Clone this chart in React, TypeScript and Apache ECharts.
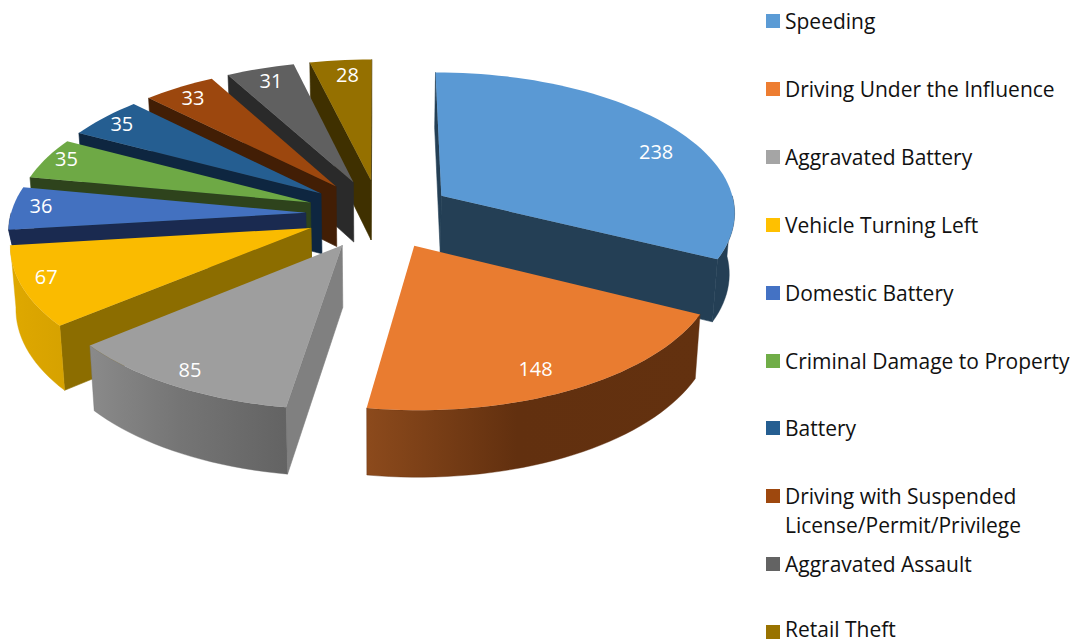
import React, { useEffect, useRef } from "react";
import * as echarts from "echarts";

const CATEGORIES = [
  "Speeding",
  "Driving Under the Influence",
  "Aggravated Battery",
  "Vehicle Turning Left",
  "Domestic Battery",
  "Criminal Damage to Property",
  "Battery",
  "Driving with Suspended\nLicense/Permit/Privilege",
  "Aggravated Assault",
  "Retail Theft",
];
const VALUES = [238, 148, 85, 67, 36, 35, 35, 33, 31, 28];

const LEGEND_COLORS = ["#5B9BD5", "#ED7D31", "#A5A5A5", "#FFC000", "#4472C4", "#70AD47", "#255E91", "#9E480E", "#636363", "#997300"];
const TOP_COLORS = ["#5A99D4", "#E97C30", "#9E9E9E", "#FABB00", "#4371C0", "#6EA945", "#255E91", "#9C470E", "#606060", "#957000"];
const WALL_COLORS = ["#243F55", "#63300F", "#808080", "#8C6D00", "#1A2A50", "#2E431C", "#0E2640", "#421E05", "#2A2A2A", "#3F3000"];
const OUTER_LEFT = ["#243F55", "#8C4A1C", "#8A8A8A", "#DFA900", "#1A2A50", "#2E431C", "#0E2640", "#421E05", "#2A2A2A", "#3F3000"];
const OUTER_MID = ["#243F55", "#62300F", "#757575", "#DBA500", "#1A2A50", "#2E431C", "#0E2640", "#421E05", "#2A2A2A", "#3F3000"];
const OUTER_RIGHT = ["#243F55", "#63310F", "#636363", "#D6A200", "#1A2A50", "#2E431C", "#0E2640", "#421E05", "#2A2A2A", "#3F3000"];

// Layout of the tilted pie
const CX = 379.5, CY = 214, RX = 295, RY = 140, PERSP = 0.105;
const EXPLODE = 0.25, THICK = 61, SHRINK = 0.985;
// How far each slice's rim drops; the blue one is mostly hidden behind its neighbour.
const RIM_DROP = [1, 1, 1, 1, 0.4, 1, 1, 1, 1, 1];
const LABEL_R = [0.853, 0.86, 0.94, 0.92, 0.91, 0.92, 0.9, 0.87, 0.83, 0.79];
const LABEL_SHIFT = [9.3, 0, 0, 0, 0, 0, 0, 0, 0, 0];
const LABEL_DX = [-5, -12, 5, 0, 2, 0, -3, -5, -4, 1];
const LABEL_DY = [-1, 1, -7, -5, -3, -3, -1, -2, -6, -9];
const LEGEND_TEXT_MAX_Y = 629;

const TOTAL = VALUES.reduce((a, b) => a + b, 0);
const rad = (d: number) => (d * Math.PI) / 180;

function project(u: number, v: number, drop: number): number[] {
  const p = 1 / (1 - PERSP * v);
  let x = u * RX * p;
  let y = CY + v * RY * p;
  if (drop > 0) {
    x *= SHRINK;
    y += drop * THICK * (1 + 0.08 * v);
  }
  return [CX + x, y];
}

function renderSlice(params: any, api: any) {
  const i = params.dataIndex;
  const value = api.value(0);
  let before = 0;
  for (let k = 0; k < i; k++) before += VALUES[k];
  const a0 = (before / TOTAL) * 360;
  const a1 = ((before + value) / TOTAL) * 360;
  const mid = (a0 + a1) / 2;
  const ou = EXPLODE * Math.sin(rad(mid));
  const ov = -EXPLODE * Math.cos(rad(mid));
  const rim = (a: number, bottom: boolean) =>
    project(ou + Math.sin(rad(a)), ov - Math.cos(rad(a)), bottom ? RIM_DROP[i] : 0);
  const arc = (from: number, to: number, bottom: boolean) => {
    const n = Math.max(2, Math.ceil((to - from) / 2));
    const out: number[][] = [];
    for (let k = 0; k <= n; k++) out.push(rim(from + ((to - from) * k) / n, bottom));
    return out;
  };
  const apexT = project(ou, ov, 0);
  const apexB = project(ou, ov, 1);
  const z = Math.round((ov + 1) * 1000) * 10;
  const children: any[] = [];

  const wall = (a: number, sign: number) => {
    const r = rim(a, false);
    if ((r[0] - apexT[0]) * sign > 0) {
      children.push({
        type: "polygon",
        z2: z,
        shape: { points: [apexT, r, rim(a, true), apexB] },
        style: { fill: WALL_COLORS[i], stroke: WALL_COLORS[i], lineWidth: 0.6 },
      });
    }
  };
  wall(a0, -1);
  wall(a1, 1);

  const s = Math.max(a0, 90);
  const e = Math.min(a1, 270);
  if (e > s) {
    children.push({
      type: "polygon",
      z2: z + 1,
      shape: { points: [...arc(s, e, false), ...arc(s, e, true).reverse()] },
      style: {
        fill: new echarts.graphic.LinearGradient(0, 0, 1, 0, [
          { offset: 0, color: OUTER_LEFT[i] },
          { offset: 0.45, color: OUTER_MID[i] },
          { offset: 1, color: OUTER_RIGHT[i] },
        ]),
        stroke: OUTER_MID[i],
        lineWidth: 0.4,
      },
    });
  }

  children.push({
    type: "polygon",
    z2: z + 2,
    shape: { points: [apexT, ...arc(a0, a1, false)] },
    style: { fill: TOP_COLORS[i] },
  });

  const la = rad(mid + LABEL_SHIFT[i]);
  const lp = project(ou + LABEL_R[i] * Math.sin(la), ov - LABEL_R[i] * Math.cos(la), 0);
  children.push({
    type: "text",
    z2: 100000,
    style: {
      text: String(value),
      x: lp[0] + LABEL_DX[i],
      y: lp[1] + LABEL_DY[i],
      fill: "#FFFFFF",
      font: '20px "Open Sans"',
      align: "center",
      verticalAlign: "middle",
    },
  });
  return { type: "group", children };
}

function legendGraphics() {
  const out: any[] = [];
  CATEGORIES.forEach((name, i) => {
    const cy = 21 + 67.9 * i;
    const twoLines = name.includes("\n");
    out.push({ type: "rect", shape: { x: 766, y: Math.round(cy) - 7, width: 14, height: 14 }, style: { fill: LEGEND_COLORS[i] } });
    out.push({
      type: "text",
      style: {
        text: name,
        x: 785,
        y: twoLines ? cy - 15 : Math.min(cy, LEGEND_TEXT_MAX_Y),
        fill: "#111111",
        font: '21px "Open Sans"',
        lineHeight: twoLines ? 29 : 16,
        align: "left",
        verticalAlign: twoLines ? "top" : "middle",
      },
    });
  });
  return out;
}

export default function App() {
  const ref = useRef<HTMLDivElement>(null);
  useEffect(() => {
    document.body.style.margin = "0";
    const chart = echarts.init(ref.current!, null, { renderer: "svg" });
    chart.setOption({
      animation: false,
      backgroundColor: "#FFFFFF",
      graphic: legendGraphics(),
      series: [
        {
          type: "custom",
          coordinateSystem: "none",
          renderItem: renderSlice,
          data: VALUES.map((v, i) => ({ name: CATEGORIES[i].replace("\n", " "), value: [v] })),
          silent: true,
        },
      ],
    });
    return () => chart.dispose();
  }, []);
  return <div ref={ref} style={{ width: 1071, height: 640 }} />;
}
